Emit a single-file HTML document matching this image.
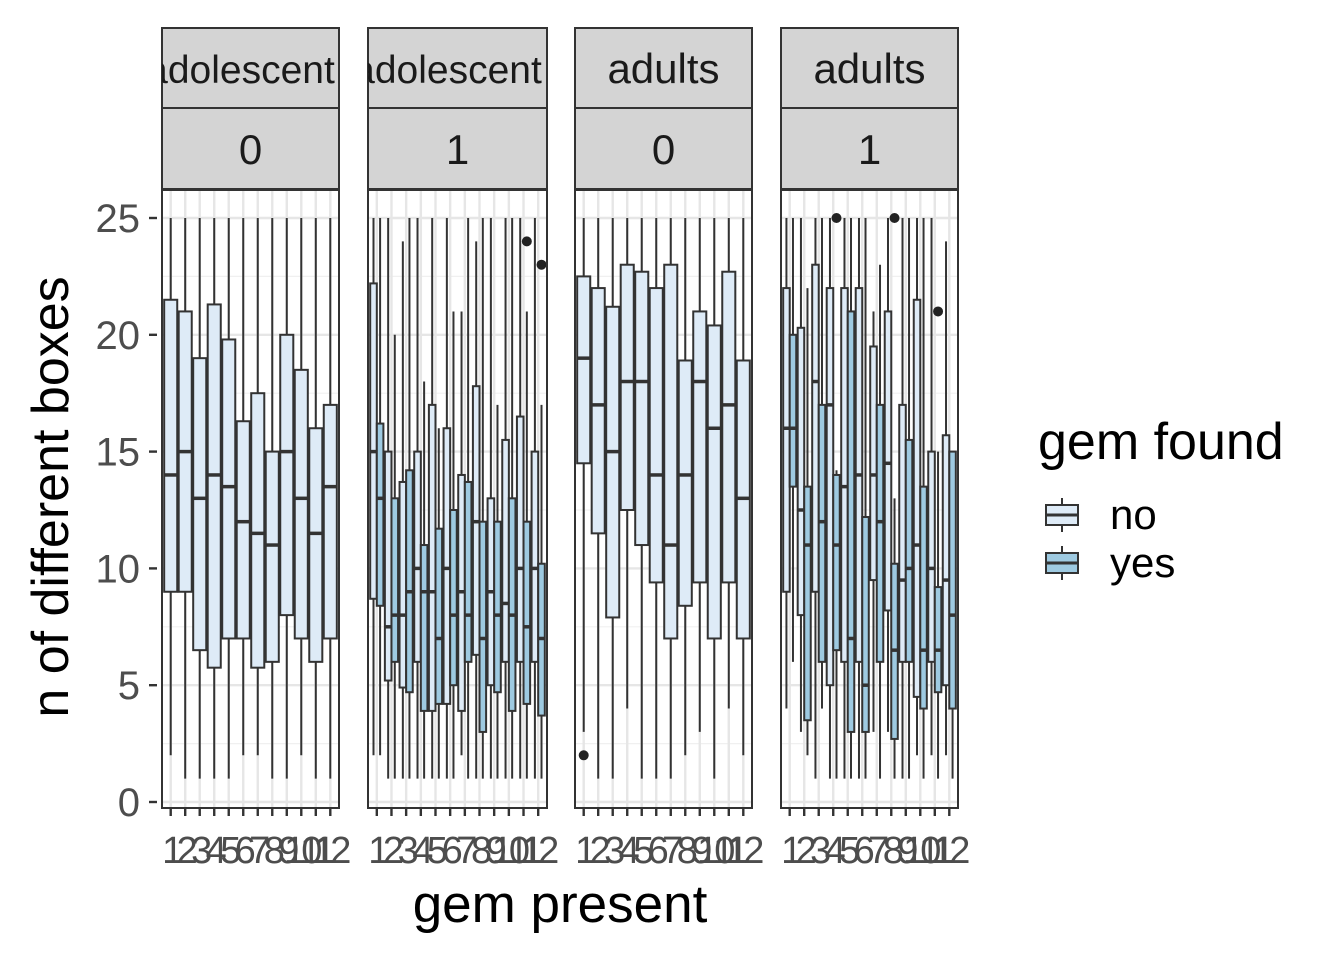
<!DOCTYPE html>
<html><head><meta charset="utf-8"><style>
html,body{margin:0;padding:0;background:#fff}
svg{display:block;font-family:"Liberation Sans",Arial,sans-serif}
</style></head><body>
<svg id="chart" width="1344" height="960" viewBox="0 0 1344 960" xmlns="http://www.w3.org/2000/svg"></svg>
<script>
// categories
const categories = ["1","2","3","4","5","6","7","8","9","10","11","12"];
const yTicks = [0,5,10,15,20,25];
const stripTop = ["adolescent","adolescent","adults","adults"];
const stripBottom = ["0","1","0","1"];
// box stats: [low whisker, q1, median, q3, high whisker]
const p1No = [[2,9,14,21.5,25],[1,9,15,21,25],[1,6.5,13,19,25],[1,5.75,14,21.3,25],[1,7,13.5,19.8,25],[2,7,12,16.3,25],[2,5.75,11.5,17.5,25],[1,6,11,15,25],[1,8,15,20,25],[2,7,13,18.5,25],[1,6,11.5,16,25],[1,7,13.5,17,25]];
const p2No = [[2,8.7,15,22.2,25],[1,5.2,7.5,15,25],[1,4.9,8,13.7,24],[1,6,10,15,25],[1,3.9,9,17,25],[1,4.2,10,16,25],[2,3.9,9,14,21],[1,6.3,12,17.8,24],[1,5,9,13,25],[1,6,8.5,15.5,25],[1,6,10,16.5,25],[1,6,10,15,25]];
const p2Yes = [[2,8.4,13,16.2,25],[1,6,8,13,20],[1,4.7,9,14.2,25],[1,3.9,9,11,18],[1,4.2,7,11.7,16],[1,5,8,12.5,21],[1,6,8,13.7,25],[1,3,7,12,25],[1,4.7,8,12,17],[1,3.9,8,13,25],[1,4.2,7.5,12,21],[1,3.7,7,10.2,17]];
const p3No = [[3,14.5,19,22.5,25],[1,11.5,17,22,25],[1,7.9,15,21.2,25],[4,12.5,18,23,25],[1,11,18,22.7,25],[1,9.4,14,22,25],[1,7,11,23,25],[2,8.4,14,18.9,25],[3,9.4,18,21,25],[1,7,16,20.4,25],[4,9.4,17,22.7,25],[2,7,13,18.9,25]];
const p4No = [[4,9,16,22,25],[3,8,12.5,20.3,25],[1,9,18,23,25],[1,5,17,22,25],[1,6,13.5,22,25],[1,6,14,22,25],[3,9.5,14,19.5,21],[3,8.2,14.5,21,25],[1,6,9.5,17,25],[2,4.5,11,21.5,25],[2,6,10,15,25],[2,5,9.5,15.7,24]];
const p4Yes = [[6,13.5,16,20,25],[2,3.5,11,13.5,22],[4,6,12,17,25],[1,6.5,11,14,14.2],[1,3,7,21,25],[1,3,5,12.2,25],[1,6,12,17,23],[1,2.7,6.5,10.2,13],[1,6,10,15.5,25],[1,4,6.5,13.5,25],[1,4.7,6.5,9.2,15],[1,4,8,15,15]];
// outliers: [category index (1-based), value]
const p2Out = [[11,24],[12,23]];
const p3Out = [[1,2]];
const p4Out = [[4,25],[8,25],[11,21]];

const NS="http://www.w3.org/2000/svg";
const svg=document.getElementById('chart');
function el(tag,attrs,parent){const e=document.createElementNS(NS,tag);for(const k in attrs)e.setAttribute(k,attrs[k]);(parent||svg).appendChild(e);return e;}
const panelsX=[[162,339],[368,547],[575,752],[781,958]];
const PT=190, PB=808;
function y(v){return 802-v*(584/25);}
function xc(p,i){const [a,b]=panelsX[p];return a+(i+1-0.4)*(b-a)/12.2;}
function unit(p){const [a,b]=panelsX[p];return (b-a)/12.2;}
const panels=[{no:p1No,yes:null,out:[]},{no:p2No,yes:p2Yes,out:p2Out},{no:p3No,yes:null,out:p3Out},{no:p4No,yes:p4Yes,out:p4Out}];
const defs=el('defs',{});
panels.forEach((P,p)=>{
  const [a,b]=panelsX[p];
  const g=el('g',{});
  
  
  el('rect',{x:a,y:PT,width:b-a,height:PB-PT,fill:'#fff'},g);
  for(let v=2.5;v<=25;v+=5){el('line',{x1:a,x2:b,y1:y(v),y2:y(v),stroke:'#f0f0f0','stroke-width':1.2},g);}
  yTicks.forEach(v=>el('line',{x1:a,x2:b,y1:y(v),y2:y(v),stroke:'#e6e6e6','stroke-width':2.4},g));
  categories.forEach((c,i)=>el('line',{x1:xc(p,i),x2:xc(p,i),y1:PT,y2:PB,stroke:'#e6e6e6','stroke-width':2.4},g));
  const u=unit(p);
  function drawBox(s,cx,w,fill,name){
    const bg=el('g',{},g);
    
    
    el('line',{x1:cx,x2:cx,y1:y(s[0]),y2:y(s[1]),stroke:'#333','stroke-width':2},bg);
    el('line',{x1:cx,x2:cx,y1:y(s[3]),y2:y(s[4]),stroke:'#333','stroke-width':2},bg);
    el('rect',{x:cx-w/2,y:y(s[3]),width:w,height:y(s[1])-y(s[3]),fill:fill,stroke:'#333','stroke-width':2},bg);
    el('line',{x1:cx-w/2,x2:cx+w/2,y1:y(s[2]),y2:y(s[2]),stroke:'#333','stroke-width':3.5},bg);
  }
  categories.forEach((c,i)=>{
    const cx=xc(p,i);
    if(P.yes){
      drawBox(P.no[i],cx-0.225*u,0.45*u,'#deebf7','box-no-'+c);
      drawBox(P.yes[i],cx+0.225*u,0.45*u,'#9ecae1','box-yes-'+c);
    } else drawBox(P.no[i],cx,0.9*u,'#deebf7','box-no-'+c);
  });
  P.out.forEach(o=>{
    const cx=xc(p,o[0]-1)+(P.yes?0.225*u:0);
    const d=el('circle',{cx:cx,cy:y(o[1]),r:5,fill:'#222'},g);
    
    
  });
  el('rect',{x:a,y:PT,width:b-a,height:PB-PT,fill:'none',stroke:'#333','stroke-width':2},g);
  categories.forEach((c,i)=>{
    el('line',{x1:xc(p,i),x2:xc(p,i),y1:PB,y2:PB+8,stroke:'#333','stroke-width':2.4},g);
    const t=el('text',{x:xc(p,i),y:PB+55,'text-anchor':'middle','font-size':38,fill:'#4d4d4d','letter-spacing':-4},g);
    t.textContent=c;
    
    
  });
  const cp=el('clipPath',{id:'cp'+p},defs);
  el('rect',{x:a,y:28,width:b-a,height:162},cp);
  const s1=el('rect',{x:a,y:28,width:b-a,height:80,fill:'#d4d4d4',stroke:'#333','stroke-width':2},g);
  
  
  const s2=el('rect',{x:a,y:108,width:b-a,height:81,fill:'#d4d4d4',stroke:'#333','stroke-width':2},g);
  
  
  const long=stripTop[p].length>7;
  const t1=el('text',{x:(a+b)/2+(long?-10:0),y:83,'text-anchor':'middle','font-size':long?39:42,fill:'#1a1a1a','clip-path':'url(#cp'+p+')'},g);
  t1.textContent=stripTop[p];
  
  
  const t2=el('text',{x:(a+b)/2,y:164,'text-anchor':'middle','font-size':42,fill:'#1a1a1a'},g);
  t2.textContent=stripBottom[p];
  
  
});
yTicks.forEach(v=>{
  el('line',{x1:149,x2:157,y1:y(v),y2:y(v),stroke:'#333','stroke-width':2.4});
  const t=el('text',{x:140,y:y(v)+14,'text-anchor':'end','font-size':40,fill:'#4d4d4d'});
  t.textContent=v;
  
  
});
const yt=el('text',{x:0,y:0,'text-anchor':'middle','font-size':52,fill:'#000',transform:'translate(68,497) rotate(-90)'});
yt.textContent='n of different boxes';


const xt=el('text',{x:560,y:922,'text-anchor':'middle','font-size':53,fill:'#000'});
xt.textContent='gem present';


const lg=el('g',{});


const lt=el('text',{x:1038,y:459,'font-size':52,fill:'#000'},lg);
lt.textContent='gem found';


[['no','#deebf7',515],['yes','#9ecae1',563]].forEach(([lab,f,cy])=>{
  const k=el('g',{},lg);
  
  
  el('line',{x1:1062,x2:1062,y1:cy-17,y2:cy+17,stroke:'#333','stroke-width':2},k);
  el('rect',{x:1046,y:cy-10,width:32,height:20,fill:f,stroke:'#333','stroke-width':2},k);
  el('line',{x1:1046,x2:1078,y1:cy,y2:cy,stroke:'#333','stroke-width':3},k);
  const t=el('text',{x:1110,y:cy+14,'font-size':42,fill:'#000'},k);
  t.textContent=lab;
});
</script>
</body></html>
